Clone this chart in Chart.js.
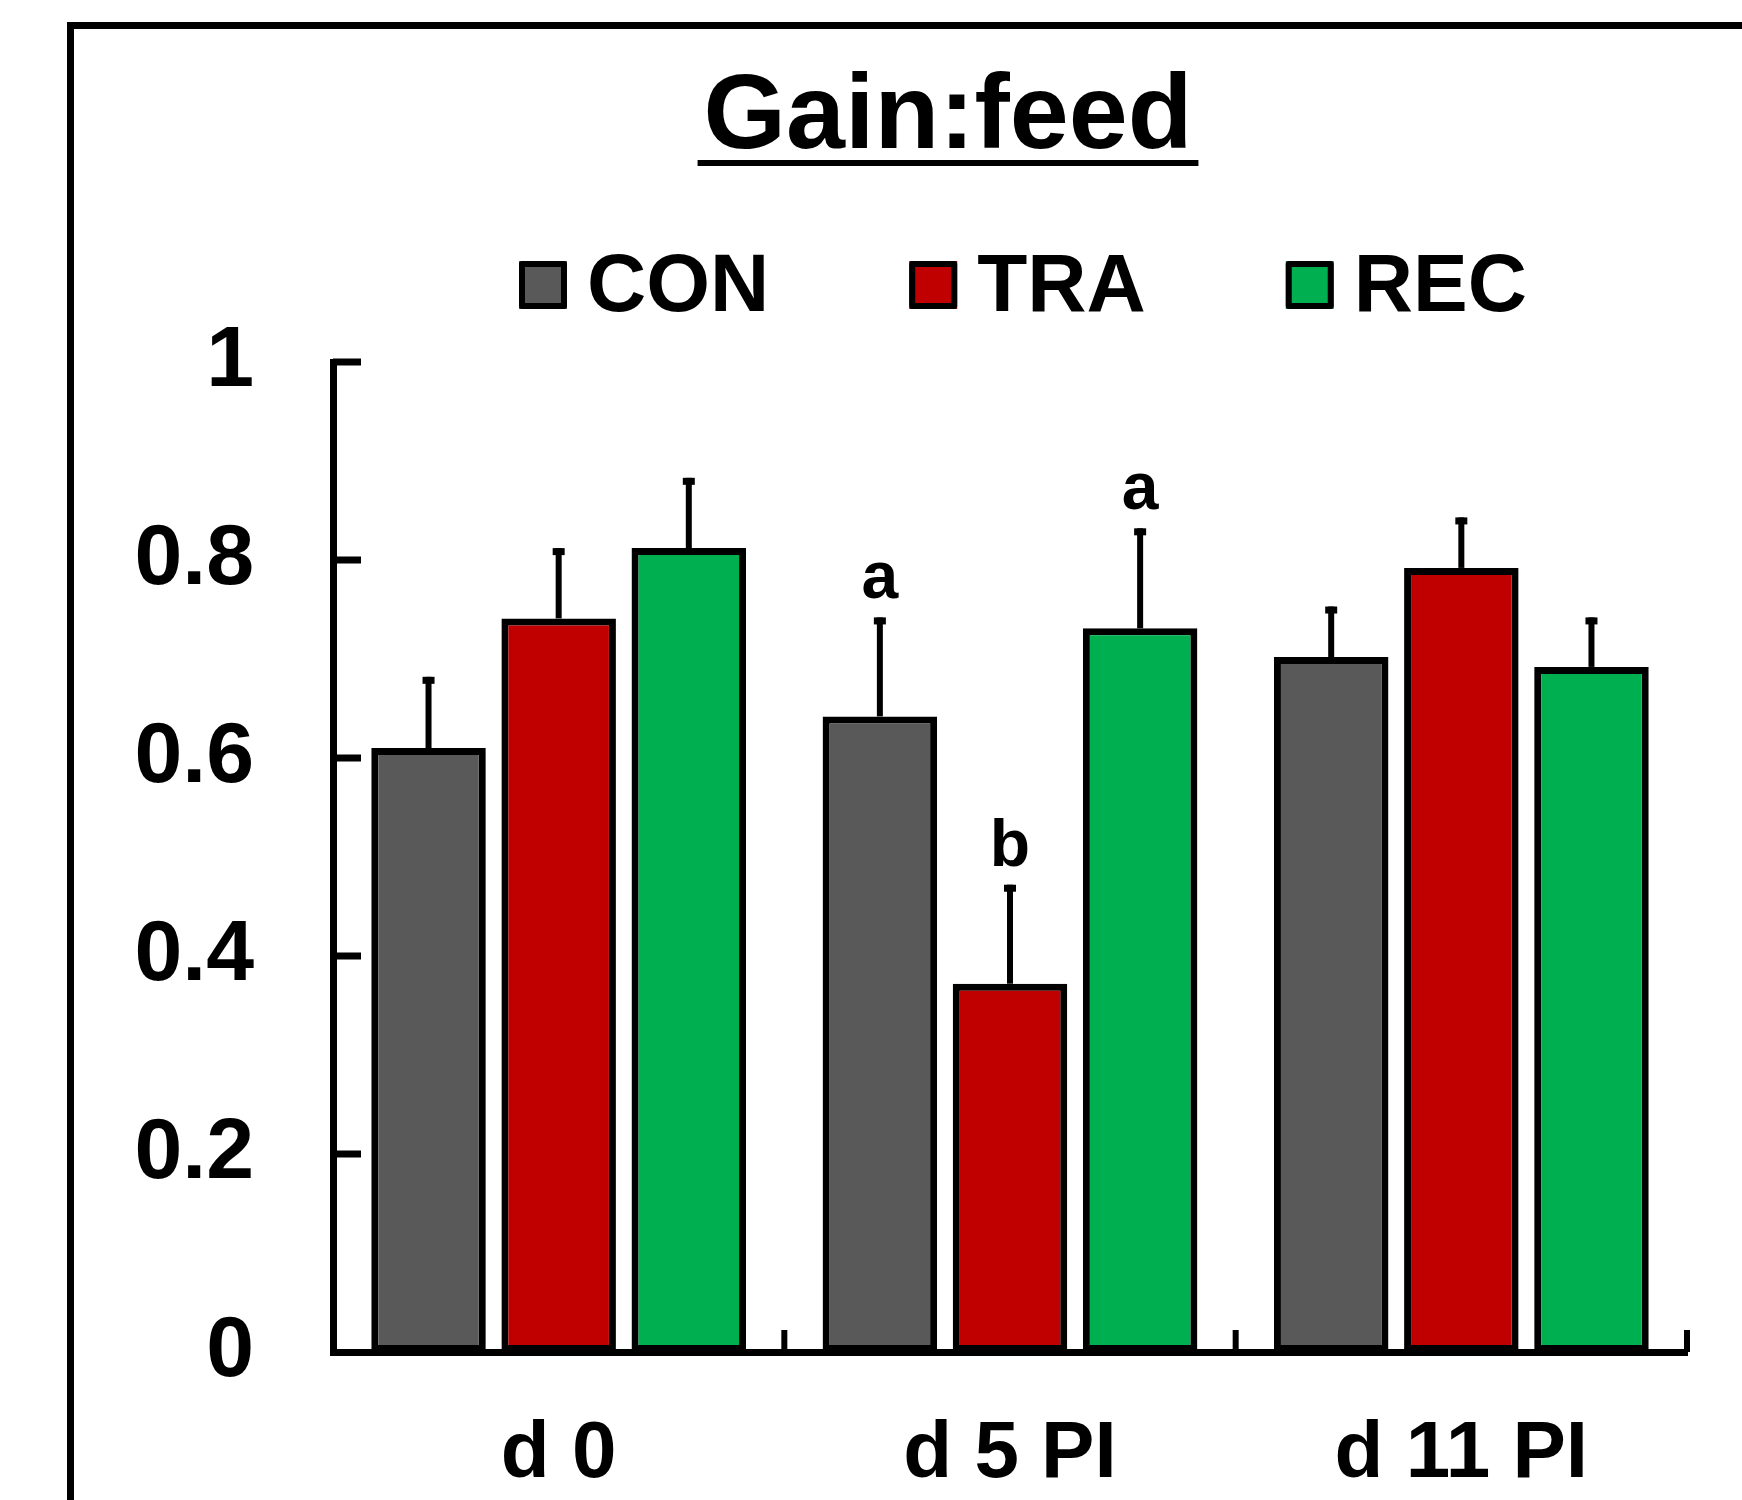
<!DOCTYPE html>
<html>
<head>
<meta charset="utf-8">
<title>Gain:feed</title>
<script src="https://cdn.jsdelivr.net/npm/chart.js@4.4.1/dist/chart.umd.min.js"></script>
<style>
  html, body { margin: 0; padding: 0; background: #fff; }
  #wrap { width: 1742px; height: 1500px; }
</style>
</head>
<body>
<div id="wrap"><canvas id="gainChart" width="1742" height="1500"></canvas></div>
<script>
// Gain:feed by period and treatment
const periods = ["d 0", "d 5 PI", "d 11 PI"];
const groups = ["CON", "TRA", "REC"];
const groupColors = ["#595959", "#C00000", "#00B050"];

const conValues = [0.610, 0.642, 0.702];
const traValues = [0.741, 0.372, 0.792];
const recValues = [0.812, 0.731, 0.692];

// upper error bar lengths
const conErrors = [0.072, 0.100, 0.051];
const traErrors = [0.071, 0.100, 0.051];
const recErrors = [0.071, 0.101, 0.050];

// significance letters above bars
const conLetters = ["", "a", ""];
const traLetters = ["", "b", ""];
const recLetters = ["", "a", ""];

const yTicks = [0, 0.2, 0.4, 0.6, 0.8, 1];
const yTickLabels = ["0", "0.2", "0.4", "0.6", "0.8", "1"];

const FONT = '"Liberation Sans", Arial, sans-serif';

// white page + the outer frame (top and left edges only visible)
const framePlugin = {
    id: 'frame',
    beforeDraw(chart) {
        const ctx = chart.ctx;
        ctx.save();
        ctx.fillStyle = '#fff';
        ctx.fillRect(0, 0, chart.width, chart.height);
        ctx.strokeStyle = '#000';
        ctx.lineWidth = 7;
        ctx.strokeRect(70.5, 25.5, 3000, 3000);
        ctx.restore();
    }
};

// inward tick marks on y axis, upward marks between categories
const axisTicks = {
    id: 'axisTicks',
    afterDraw(chart) {
        const ctx = chart.ctx;
        const area = chart.chartArea;
        const x = chart.scales.x;
        const y = chart.scales.y;
        ctx.save();
        ctx.fillStyle = '#000';
        yTicks.forEach(v => {
            if (v === 0) return;
            const py = y.getPixelForValue(v);
            ctx.fillRect(area.left, py - 3.5, 28, 7);
        });
        const half = (x.getPixelForValue(1) - x.getPixelForValue(0)) / 2;
        periods.forEach((p, i) => {
            const px = x.getPixelForValue(i) + half;
            ctx.fillRect(px - 3, area.bottom - 22, 6, 22);
        });
        ctx.restore();
    }
};

const errorBars = {
    id: 'errorBars',
    afterDatasetsDraw(chart) {
        const ctx = chart.ctx;
        const y = chart.scales.y;
        chart.data.datasets.forEach((ds, di) => {
            const meta = chart.getDatasetMeta(di);
            meta.data.forEach((bar, i) => {
                const top = y.getPixelForValue(ds.data[i] + ds.errors[i]);
                ctx.save();
                ctx.strokeStyle = '#000';
                ctx.lineWidth = 6;
                ctx.beginPath();
                ctx.moveTo(bar.x, bar.y);
                ctx.lineTo(bar.x, top);
                ctx.stroke();
                ctx.fillStyle = '#000';
                ctx.fillRect(bar.x - 6, top, 12, 7);
                if (ds.letters[i]) {
                    ctx.font = 'bold 66px ' + FONT;
                    ctx.textAlign = 'center';
                    ctx.textBaseline = 'alphabetic';
                    ctx.fillText(ds.letters[i], bar.x, top - 19);
                }
                ctx.restore();
            });
        });
    }
};

// underlined title and the legend row
const titleLegend = {
    id: 'titleLegend',
    afterDraw(chart) {
        const ctx = chart.ctx;
        ctx.save();
        ctx.fillStyle = '#000';
        ctx.font = 'bold 106px ' + FONT;
        ctx.textAlign = 'center';
        ctx.textBaseline = 'alphabetic';
        const title = 'Gain:feed';
        ctx.fillText(title, 948, 148);
        const tw = ctx.measureText(title).width;
        ctx.fillRect(948 - tw / 2 - 6, 160, tw + 12, 6);

        ctx.font = 'bold 82px ' + FONT;
        ctx.textAlign = 'left';
        let lx = 519;
        chart.data.datasets.forEach(ds => {
            ctx.fillStyle = ds.backgroundColor;
            ctx.fillRect(lx, 261, 48, 48);
            ctx.strokeStyle = '#000';
            ctx.lineWidth = 6;
            ctx.lineJoin = 'round';
            ctx.strokeRect(lx + 3, 264, 42, 42);
            ctx.fillStyle = '#000';
            ctx.fillText(ds.label, lx + 68, 311);
            lx += 48 + 20 + ctx.measureText(ds.label).width + 140;
        });
        ctx.restore();
    }
};

const valueSets = [conValues, traValues, recValues];
const errorSets = [conErrors, traErrors, recErrors];
const letterSets = [conLetters, traLetters, recLetters];

const ctx = document.getElementById('gainChart');
const gainChart = new Chart(ctx, {
    type: 'bar',
    data: {
        labels: periods,
        datasets: groups.map((g, i) => ({
            label: g,
            data: valueSets[i],
            errors: errorSets[i],
            letters: letterSets[i],
            backgroundColor: groupColors[i],
            borderColor: '#000',
            borderWidth: 7,
            borderSkipped: false,
            categoryPercentage: 0.865,
            barPercentage: 0.88
        }))
    },
    options: {
        responsive: false,
        animation: false,
        layout: {
            padding: { top: 362, right: 55, bottom: 0, left: 0 }
        },
        scales: {
            x: {
                offset: true,
                grid: { display: false },
                border: { display: true, color: '#000', width: 7 },
                ticks: {
                    color: '#000',
                    padding: 47,
                    font: { family: FONT, size: 80, weight: 'bold' }
                },
                afterFit: function (scale) {
                    scale.height = 148;
                }
            },
            y: {
                min: 0,
                max: 1,
                grid: { display: false },
                border: { display: true, color: '#000', width: 7 },
                afterBuildTicks: function (scale) {
                    scale.ticks = yTicks.map(v => ({ value: v }));
                },
                ticks: {
                    color: '#000',
                    padding: 71,
                    font: { family: FONT, size: 86, weight: 'bold' },
                    callback: function (value, index) {
                        return yTickLabels[index];
                    }
                },
                afterFit: function (scale) {
                    scale.width = 333;
                }
            }
        },
        plugins: {
            legend: { display: false },
            title: { display: false },
            tooltip: { enabled: false }
        }
    },
    plugins: [framePlugin, errorBars, axisTicks, titleLegend]
});
</script>
</body>
</html>
